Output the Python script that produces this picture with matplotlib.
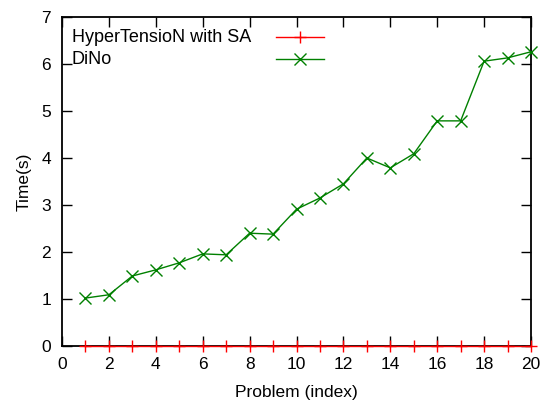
import numpy as np
import matplotlib.pyplot as plt

plt.rcParams['font.family'] = ['Liberation Sans', 'DejaVu Sans']

# Problem indices and run times
problems = list(range(1, 21))
hypertension_sa = [0.0] * 20
dino = [1.02, 1.09, 1.49, 1.62, 1.77, 1.96, 1.94, 2.40, 2.38, 2.91,
        3.15, 3.45, 4.00, 3.79, 4.09, 4.79, 4.79, 6.06, 6.13, 6.26]
series_names = ['HyperTensioN with SA', 'DiNo']

fig = plt.figure(figsize=(5.41, 4.07), dpi=100)
ax = fig.add_axes([62 / 541, 61 / 407, 469 / 541, 329 / 407])

ax.plot(problems, hypertension_sa, color='#ff0000', lw=1.0, marker='+',
        ms=9, mew=1.0, clip_on=False, zorder=3)
ax.plot(problems, dino, color='#008000', lw=1.0, marker='x',
        ms=9, mew=1.0, clip_on=False, zorder=3)

ax.set_xlim(0, 20)
ax.set_ylim(0, 7)
ax.set_xticks(range(0, 21, 2))
ax.set_yticks(range(0, 8))
ax.tick_params(direction='in', top=True, right=True, length=7, width=1,
               labelsize=12.5, pad=8)
for s in ax.spines.values():
    s.set_linewidth(1.3)

ax.set_xlabel('Problem (index)', fontsize=12.5, labelpad=9)
ax.set_ylabel('Time(s)', fontsize=12.5, labelpad=7)

# gnuplot-style key: left-justified text, sample to the right
key_y = [0.939, 0.872]
key_style = [dict(color='#ff0000', marker='+'), dict(color='#008000', marker='x')]
for name, y, st in zip(series_names, key_y, key_style):
    ax.text(0.021, y, name, transform=ax.transAxes, fontsize=13,
            va='center', ha='left')
    ax.plot([0.456, 0.559], [y, y], transform=ax.transAxes, lw=1.0,
            color=st['color'])
    ax.plot([0.5075], [y], transform=ax.transAxes, color=st['color'],
            marker=st['marker'], ms=9, mew=1.0)

fig.savefig('out.png', dpi=100)
